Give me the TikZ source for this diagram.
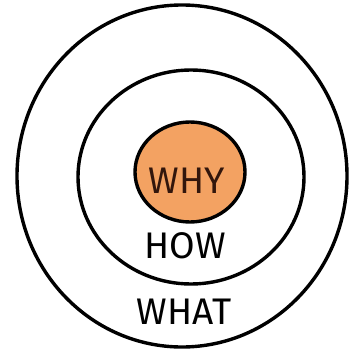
\documentclass[tikz,border=0pt]{standalone}
\usepackage{fontspec}
\setmainfont{Fira Sans}
\definecolor{whyfill}{RGB}{243,162,98}
\definecolor{whytext}{RGB}{50,22,12}
\tikzset{
  ring/.style={line width=3.4pt, draw=black},
  word/.style={font=\fontsize{37}{37}\selectfont, inner sep=0pt}
}

\begin{document}
\begin{tikzpicture}[x=1pt,y=-1pt]
    % Fix the size of the picture
    \useasboundingbox (0,0) rectangle (350,350);
    % Define the centres of the circles
    \coordinate (outer) at (182,176);
    \coordinate (middle) at (191,177);
    \coordinate (inner) at (190,172);
    % Shade the inner circle
    \fill[whyfill] (inner) ellipse (55 and 50);
    % Draw the circles
    \draw[ring] (outer) ellipse (165 and 171);
    \draw[ring] (middle) ellipse (113 and 107);
    \draw[ring] (inner) ellipse (55 and 50);
    % Write the words
    \node[word, text=whytext] (why) at (187,181) {WHY};
    \node[word] (how) at (185,246) {HOW};
    \node[word] (what) at (184,312) {WHAT};
\end{tikzpicture}
\end{document}
